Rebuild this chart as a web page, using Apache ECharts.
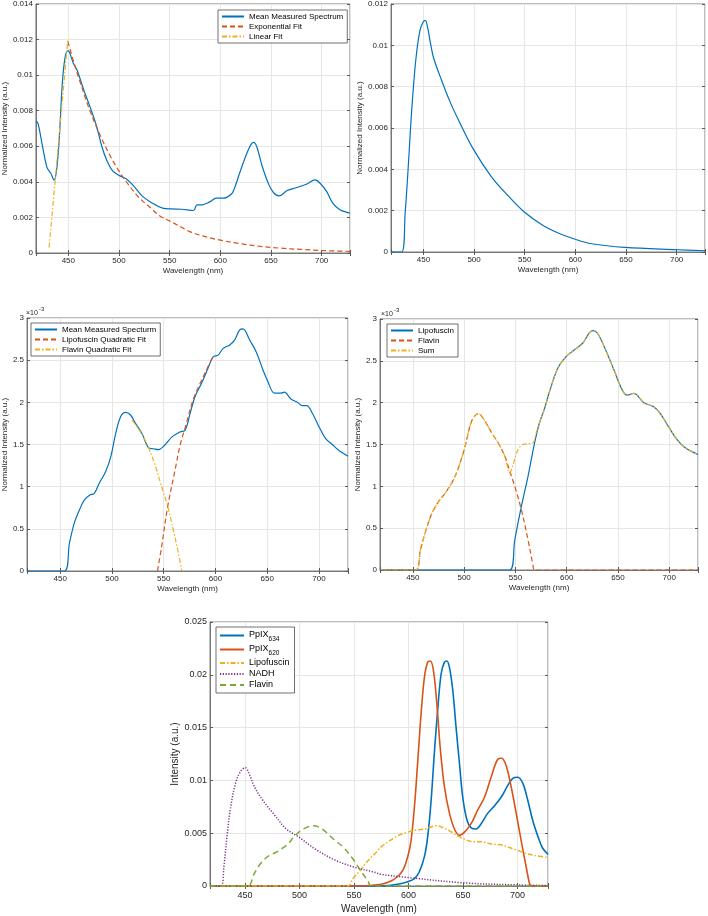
<!DOCTYPE html>
<html><head><meta charset="utf-8">
<script src="https://cdn.jsdelivr.net/npm/echarts@6/dist/echarts.min.js"></script>
<style>html,body{margin:0;padding:0;background:#fff}#c{width:708px;height:916px}</style>
</head><body><div id="c"></div>
<script>
// ---------- Data ----------
const xTicks = [450, 500, 550, 600, 650, 700];

// Plot 1: mean measured spectrum, exponential fit, linear fit
const p1MeanNm  = [418,420,424.5,429,432.5,436,438.5,441,444,446.5,449,451,455,458.5,465,471.5,478,483,488,494,500.5,507,514,523,533,543,552,562,573.5,577,582,590,596,603,611,614,619,625.5,630.5,633,636,641.5,648,653,658,666,675.5,685.5,693.5,698.5,705,711,718,726,728];
const p1MeanVal = [0.0074,0.0073,0.0060,0.0048,0.0045,0.0041,0.0047,0.0064,0.0095,0.0109,0.01136,0.0113,0.01065,0.0103,0.0092,0.0082,0.0071,0.0060,0.0052,0.0046,0.00435,0.00417,0.0038,0.0032,0.0028,0.00252,0.00248,0.00246,0.00239,0.00271,0.00271,0.00289,0.00308,0.00308,0.00332,0.00364,0.00448,0.00551,0.00612,0.00622,0.00597,0.00485,0.00383,0.00336,0.00321,0.00351,0.00368,0.00388,0.00411,0.00392,0.00345,0.0028,0.00243,0.00227,0.00225];
const p1ExpNm   = [449.5,455,460,470,480,490,500,510,520,530,540,550,560,570,580,590,600,620,640,660,680,700,728];
const p1ExpVal  = [0.0119,0.0108,0.0099,0.0082,0.0068,0.0056,0.0046,0.0038,0.0031,0.0026,0.0021,0.0018,0.0015,0.0012,0.0010,0.00085,0.00072,0.00052,0.00037,0.00027,0.0002,0.00014,0.00009];
const p1LinNm   = [431,449.5];
const p1LinVal  = [0.0003,0.0120];

// Plot 2: single decay spectrum
const p2Nm  = [418,428.5,432,435,438.5,442.5,446.5,450,452,454,457,460,468,476,484.5,499,517,534,549,567,583,599,616,649,700,728];
const p2Val = [0,0,0.0019,0.0041,0.0069,0.0093,0.0107,0.01115,0.0112,0.0109,0.0101,0.0094,0.0083,0.0073,0.0064,0.0050,0.00365,0.0027,0.00196,0.00132,0.00092,0.00063,0.0004,0.00022,0.00011,0.00006];

// Plot 3 (values x 10^-3)
const p3MeanNm  = [418,454,459,463.7,468.5,473.3,478.7,483,487.7,494,499,503.6,508.4,513.2,518,522.8,529,535.6,540,545,551.5,558,566,570.7,575.5,580.3,586.7,593,597.8,602.6,607.4,613.8,618.6,623.4,626.6,633,639.3,645.7,650.5,656.9,663.3,666.5,672.9,679.2,684,688.2,693.6,700,706.4,712.8,719.2,728];
const p3MeanVal = [0,0,0.33,0.57,0.72,0.84,0.90,0.92,1.04,1.18,1.36,1.63,1.83,1.88,1.85,1.75,1.63,1.46,1.45,1.44,1.50,1.59,1.65,1.67,1.87,2.07,2.23,2.41,2.54,2.56,2.64,2.68,2.74,2.86,2.87,2.74,2.60,2.39,2.25,2.11,2.11,2.12,2.04,2.00,1.96,1.96,1.87,1.71,1.57,1.50,1.43,1.36];
const p3LipoNm  = [544,548,553.8,561,566,571,579,590,597];
const p3LipoVal = [0,0.29,0.76,1.2,1.5,1.71,2.05,2.35,2.53];
const p3FlavNm  = [519.5,527,534,541,548,554,560,564,567.5];
const p3FlavVal = [1.79,1.66,1.50,1.28,1.0,0.76,0.45,0.22,0];

// Plot 4 (values x 10^-3)
const p4LipoNm  = [420,544.5,549.4,555.8,562.3,568.7,573.5,578.4,583.2,591.3,599.4,607.4,615.5,625.2,630,638,646.1,654.2,659,665.5,675.2,684.8,691.3,699.4,707.4,715.5,728];
const p4LipoVal = [0,0,0.36,0.76,1.12,1.52,1.76,1.93,2.13,2.41,2.55,2.63,2.71,2.86,2.83,2.63,2.39,2.15,2.09,2.11,2.00,1.95,1.87,1.71,1.56,1.46,1.38];
const p4FlavNm  = [420,452.5,457.4,463.9,468.7,475.2,481.6,489.7,496.1,501,507.4,513.9,520.3,526.8,533.2,539.7,544.5,549.4,555.8,562.3,567.1,568.5,728];
const p4FlavVal = [0,0,0.24,0.52,0.68,0.82,0.92,1.08,1.28,1.48,1.78,1.87,1.78,1.64,1.52,1.36,1.18,1.0,0.72,0.36,0.06,0,0];
const p4SumNm   = [420,452.5,457.4,463.9,468.7,475.2,481.6,489.7,496.1,501,507.4,513.9,520.3,526.8,533.2,539.7,544.5,547.7,552.6,557.4,562.3,567.1,570.3,573.5,578.4,583.2,591.3,599.4,607.4,615.5,625.2,630,638,646.1,654.2,659,665.5,675.2,684.8,691.3,699.4,707.4,715.5,728];
const p4SumVal  = [0,0,0.24,0.52,0.68,0.82,0.92,1.08,1.28,1.48,1.78,1.87,1.78,1.64,1.52,1.36,1.16,1.26,1.44,1.50,1.51,1.52,1.64,1.76,1.93,2.13,2.41,2.55,2.63,2.71,2.86,2.83,2.63,2.39,2.15,2.09,2.11,2.00,1.95,1.87,1.71,1.56,1.46,1.38];

// Plot 5: component spectra
const p5P634Nm  = [418,575,590,599.4,605.5,610,614.7,617.7,620.8,623.9,627,630,633,635.2,637.6,640.7,643.7,646.8,649.8,653.8,657.5,662,666.7,672.8,679,685,691,695.7,700.3,705,709.5,714,718.7,723,728];
const p5P634Val = [0,0,0.00016,0.0004,0.0007,0.00135,0.0028,0.0047,0.0081,0.0128,0.0169,0.0201,0.0212,0.0213,0.0207,0.0185,0.015,0.0116,0.0084,0.0062,0.0055,0.0054,0.0059,0.0069,0.0076,0.0084,0.0095,0.0102,0.0103,0.0097,0.0081,0.0062,0.0047,0.0036,0.003];
const p5P620Nm  = [418,555,575,584,590,595,599.4,602.4,605.5,608.6,611.6,614.7,617.7,620.2,623.2,626.3,629.4,633,637.6,642.2,646.8,651.4,657.5,663.6,669.7,675.8,681.9,685.6,689.6,694.2,698.8,703.4,708,711,712.5,728];
const p5P620Val = [0,0,0.00016,0.00047,0.0009,0.0015,0.0028,0.0043,0.0075,0.0119,0.0163,0.0198,0.0212,0.0213,0.0202,0.0169,0.0128,0.0094,0.0069,0.0054,0.0048,0.0051,0.0059,0.0072,0.0084,0.0103,0.012,0.0121,0.0114,0.0094,0.0069,0.0043,0.0018,0.00025,0,0];
const p5LipoNm  = [418,544.5,549,556,562,568.7,575,583,591,599.4,607.4,615.5,625.4,630,638,646,654.5,659,665.5,675,685,691,699.4,707.4,715.5,728];
const p5LipoVal = [0,0,0.0007,0.0015,0.0023,0.003,0.0037,0.0043,0.0048,0.0051,0.0053,0.0054,0.0057,0.0056,0.0052,0.0047,0.0043,0.0042,0.0042,0.004,0.0039,0.0037,0.0034,0.0031,0.0029,0.0027];
const p5NadhNm  = [418,428,430.7,433.9,437,441.6,446.3,450.5,454,458.7,466.5,475.8,488,500,513,531.7,549.7,569,575,600,650,700,728];
const p5NadhVal = [0,0,0.0018,0.005,0.0075,0.0098,0.0109,0.0112,0.0106,0.0094,0.0081,0.0069,0.0054,0.0046,0.0036,0.0025,0.0018,0.0013,0.0011,0.0008,0.0003,0.0001,0.00005];
const p5FlavNm  = [418,452.5,458.7,465,472.5,479,484.7,490,494.4,502,508,513,520.8,531.7,541,548.8,556.5,562.7,566,728];
const p5FlavVal = [0,0,0.0012,0.0022,0.0029,0.0032,0.0036,0.0040,0.0046,0.0053,0.0056,0.0057,0.0054,0.0044,0.0036,0.0026,0.0014,0.0005,0,0];

// ---------- Chart ----------
const BLUE='#0072BD', ORANGE='#D95319', YELLOW='#EDB120', PURPLE='#7E2F8E', GREEN='#77AC30';
const TXT='#262626', FONT='"Liberation Sans", Arial, Helvetica, sans-serif', AX='#5a5a5a';
const pts = (nm, v) => nm.map((x, i) => [x, v[i]]);

const grids = [
  {left:33, top:4, width:317, height:249},
  {left:391, top:3, width:316, height:249},
  {left:25, top:318, width:323, height:253},
  {left:380, top:319, width:318, height:251},
  {left:210, top:622, width:338, height:264}
];
const yCfg = [
  {max:0.014, interval:0.002, name:'Normalized Intensity (a.u.)', gap:22},
  {max:0.012, interval:0.002, name:'Normalized Intensity (a.u.)', gap:21},
  {max:3, interval:0.5, name:'Normalized Intensity (a.u.)', gap:15},
  {max:3, interval:0.5, name:'Normalized Intensity (a.u.)', gap:13},
  {max:0.025, interval:0.005, name:'Intensity (a.u.)', gap:27}
];

const xFmt = v => xTicks.includes(Math.round(v)) && Math.abs(v - Math.round(v)) < 1e-6 ? String(Math.round(v)) : '';
const xAxis = grids.map((g, i) => {
  const big = i === 4;
  return {
    type:'value', gridIndex:i, min:418, max:728, splitNumber:6,
    name:'Wavelength (nm)', nameLocation:'middle', nameGap: big ? 18 : 14,
    nameTextStyle:{fontSize: big ? 10 : 8, color:TXT, fontFamily:FONT},
    axisLine:{show:true, onZero:false, lineStyle:{color:AX, width:0.8}},
    axisTick:{show:true, inside:true, length:3, lineStyle:{color:AX}},
    axisLabel:{fontSize: big ? 9 : 8, color:TXT, margin: big ? 5 : 4, fontFamily:FONT, formatter:xFmt},
    splitLine:{show:true, lineStyle:{color:'#e6e6e6', width:1}}
  };
}).concat(grids.map((g, i) => ({
  type:'value', gridIndex:i, position:'top', min:418, max:728, splitNumber:6,
  axisLine:{show:false}, axisTick:{show:true, inside:true, length:3, lineStyle:{color:AX}},
  axisLabel:{show:false}, splitLine:{show:false}
})));
const yAxis = yCfg.map((c, i) => {
  const big = i === 4;
  return {
    type:'value', gridIndex:i, min:0, max:c.max, interval:c.interval,
    name:c.name, nameLocation:'middle', nameGap:c.gap, nameRotate:90,
    nameTextStyle:{fontSize: big ? 10 : 8, color:TXT, fontFamily:FONT},
    axisLine:{show:true, lineStyle:{color:AX, width:0.8}},
    axisTick:{show:true, inside:true, length:3, lineStyle:{color:AX}},
    axisLabel:{fontSize: big ? 9 : 8, color:TXT, margin:3, fontFamily:FONT},
    splitLine:{show:true, lineStyle:{color:'#e6e6e6', width:1}}
  };
}).concat(yCfg.map((c, i) => ({
  type:'value', gridIndex:i, position:'right', min:0, max:c.max, interval:c.interval,
  axisLine:{show:false}, axisTick:{show:true, inside:true, length:3, lineStyle:{color:AX}},
  axisLabel:{show:false}, splitLine:{show:false}
})));

function ln(name, gi, data, color, width, type, smooth) {
  return {
    type:'line', name, xAxisIndex:gi, yAxisIndex:gi, data, color,
    symbol:'none', showSymbol:false, smooth: smooth === undefined ? 0.35 : smooth,
    animation:false, silent:true,
    itemStyle:{color, opacity:0},
    lineStyle:{color, width, type: type || 'solid'}
  };
}
const DASH=[5,3], DASHDOT=[5,2,1.5,2], DOT=[1.2,1.6];

const series = [
  ln('Mean Measured Spectrum', 0, pts(p1MeanNm, p1MeanVal), BLUE, 1.2),
  ln('Exponential Fit', 0, pts(p1ExpNm, p1ExpVal), ORANGE, 1.2, DASH),
  ln('Linear Fit', 0, pts(p1LinNm, p1LinVal), YELLOW, 1.2, DASHDOT, false),
  ln('Spectrum#2', 1, pts(p2Nm, p2Val), BLUE, 1.2),
  ln('Mean Measured Specturm', 2, pts(p3MeanNm, p3MeanVal), BLUE, 1.2),
  ln('Lipofuscin Quadratic Fit', 2, pts(p3LipoNm, p3LipoVal), ORANGE, 1.2, DASH),
  ln('Flavin Quadratic Fit', 2, pts(p3FlavNm, p3FlavVal), YELLOW, 1.2, DASHDOT),
  ln('Lipofuscin#4', 3, pts(p4LipoNm, p4LipoVal), BLUE, 1.2),
  ln('Flavin#4', 3, pts(p4FlavNm, p4FlavVal), ORANGE, 1.2, DASH),
  ln('Sum#4', 3, pts(p4SumNm, p4SumVal), YELLOW, 1.2, DASHDOT),
  ln('PpIX634', 4, pts(p5P634Nm, p5P634Val), BLUE, 1.6),
  ln('PpIX620', 4, pts(p5P620Nm, p5P620Val), ORANGE, 1.6),
  ln('Lipofuscin#5', 4, pts(p5LipoNm, p5LipoVal), YELLOW, 1.5, DASHDOT),
  ln('NADH#5', 4, pts(p5NadhNm, p5NadhVal), PURPLE, 1.5, DOT),
  ln('Flavin#5', 4, pts(p5FlavNm, p5FlavVal), GREEN, 1.5, [6,4])
];

function legend(names, left, top, fs, opts) {
  return Object.assign({
    data:names, left, top, orient:'vertical', selectedMode:false,
    backgroundColor:'#fff', borderColor:'#333', borderWidth:0.7, borderRadius:0,
    padding:[2,4,2,3], itemWidth:22, itemHeight:8, itemGap:1,
    itemStyle:{opacity:0, borderWidth:0},
    textStyle:{fontSize:fs, color:'#000', fontFamily:FONT, lineHeight:fs+1,
      rich:{m:{fontSize:9, lineHeight:11, verticalAlign:'top', color:'#000', fontFamily:FONT},
            s:{fontSize:6.5, lineHeight:7, padding:[6,0,0,0], verticalAlign:'top', color:'#000', fontFamily:FONT}}},
    formatter: n => {
      if (n === 'PpIX634') return '{m|PpIX}{s|634}';
      if (n === 'PpIX620') return '{m|PpIX}{s|620}';
      return n.split('#')[0];
    }
  }, opts || {});
}

const option = {
  backgroundColor:'#fff',
  animation:false,
  textStyle:{fontFamily:FONT},
  grid: grids.map(g => Object.assign({show:true, borderColor:AX, borderWidth:0.8, backgroundColor:'transparent', containLabel:false}, g)),
  xAxis, yAxis, series,
  legend: [
    legend(['Mean Measured Spectrum','Exponential Fit','Linear Fit'], 218, 10, 8),
    legend(['Mean Measured Specturm','Lipofuscin Quadratic Fit','Flavin Quadratic Fit'], 31, 323, 8),
    legend(['Lipofuscin#4','Flavin#4','Sum#4'], 387, 324, 8),
    legend(['PpIX634','PpIX620','Lipofuscin#5','NADH#5','Flavin#5'], 216, 627, 9, {itemWidth:24, itemGap:1, padding:[3,5,3,3]})
  ],
  graphic: [
    {type:'text', left:26, top:310, style:{text:'\u00d710', fontSize:7, fill:TXT, fontFamily:FONT}},
    {type:'text', left:39, top:306, style:{text:'-3', fontSize:6, fill:TXT, fontFamily:FONT}},
    {type:'text', left:381, top:311, style:{text:'\u00d710', fontSize:7, fill:TXT, fontFamily:FONT}},
    {type:'text', left:394, top:307, style:{text:'-3', fontSize:6, fill:TXT, fontFamily:FONT}}
  ]
};
const chart = echarts.init(document.getElementById('c'), null, {renderer:'canvas'});
chart.setOption(option);
</script>
</body></html>
